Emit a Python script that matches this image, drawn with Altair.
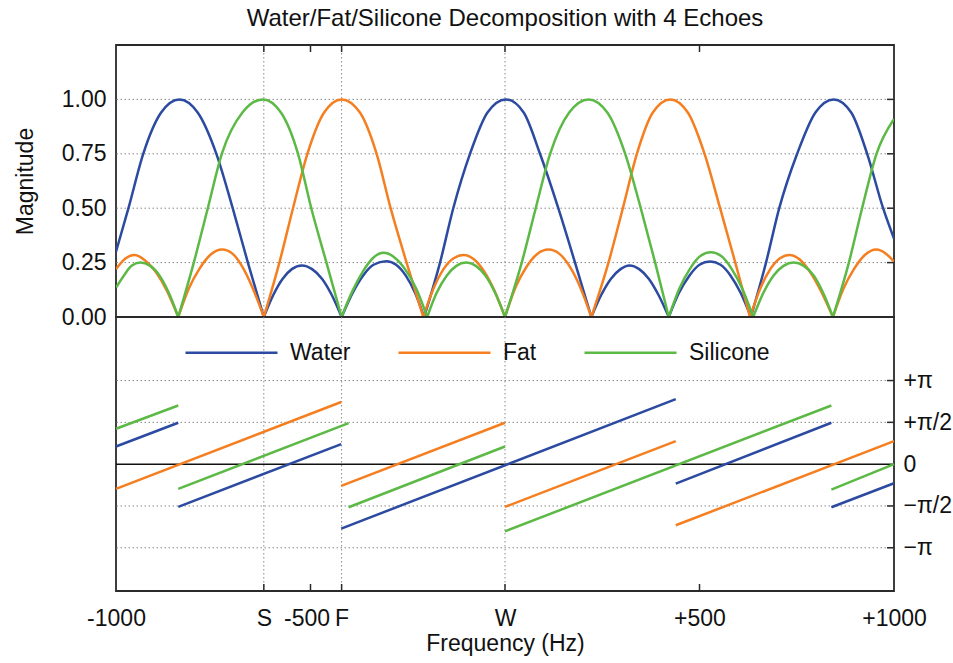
import altair as alt
import pandas as pd

# ---- reference frequencies (Hz) ----
S_HZ, F_HZ, W_HZ = -620, -420, 0

series_names = ["Water", "Fat", "Silicone"]
series_colors = ["#2b4aa0", "#f57f20", "#5cb946"]

# ---- magnitude curves (Hz, magnitude) ----
water_hz = [-1000, -968, -930, -884, -837, -790, -742, -700, -661, -620,
            -596, -572, -548, -522, -496, -470, -445, -420,
            -392, -365, -338, -305, -280, -255, -231, -208,
            -167, -133, -90, -45, 2, 48, 90, 137, 180, 222,
            247, 272, 297, 320, 345, 370, 395, 421,
            447, 474, 500, 527, 554, 580, 606, 632,
            671, 705, 751, 798, 845, 890, 931, 972, 1000]
water_mag = [0.30, 0.50, 0.75, 0.94, 1.0, 0.94, 0.75, 0.50, 0.25, 0,
             0.10, 0.175, 0.22, 0.237, 0.22, 0.175, 0.10, 0,
             0.11, 0.19, 0.24, 0.256, 0.24, 0.19, 0.11, 0,
             0.25, 0.50, 0.75, 0.94, 1.0, 0.94, 0.75, 0.50, 0.25, 0,
             0.10, 0.175, 0.22, 0.237, 0.22, 0.175, 0.10, 0,
             0.11, 0.19, 0.24, 0.255, 0.24, 0.19, 0.11, 0,
             0.25, 0.50, 0.75, 0.94, 1.0, 0.94, 0.75, 0.50, 0.36]

fat_hz = [-1000, -975, -953, -925, -897, -869, -840,
          -813, -786, -758, -727, -700, -675, -648, -620,
          -580, -545, -508, -465, -420, -373, -330, -294, -253, -210,
          -184, -158, -132, -106, -80, -54, -27, 0,
          28, 55, 83, 112, 140, 167, 195, 222,
          266, 303, 339, 380, 425, 470, 513, 553, 592, 630,
          656, 682, 707, 731, 757, 783, 812, 843,
          870, 897, 925, 955, 980, 1000]
fat_mag = [0.22, 0.27, 0.285, 0.26, 0.205, 0.12, 0,
           0.13, 0.22, 0.285, 0.31, 0.29, 0.23, 0.13, 0,
           0.25, 0.50, 0.75, 0.94, 1.0, 0.94, 0.75, 0.50, 0.25, 0,
           0.13, 0.22, 0.27, 0.285, 0.265, 0.21, 0.12, 0,
           0.14, 0.23, 0.29, 0.31, 0.29, 0.23, 0.13, 0,
           0.25, 0.50, 0.75, 0.94, 1.0, 0.94, 0.75, 0.50, 0.25, 0,
           0.13, 0.22, 0.27, 0.285, 0.265, 0.21, 0.12, 0,
           0.13, 0.22, 0.285, 0.31, 0.29, 0.255]

silicone_hz = [-1000, -980, -960, -938, -912, -888, -864, -840,
               -800, -764, -728, -675, -622, -576, -532, -498, -459, -420,
               -392, -365, -340, -312, -285, -257, -228, -200,
               -176, -150, -125, -100, -75, -50, -25, 0,
               43, 79, 116, 165, 215, 263, 309, 349, 386, 421,
               448, 475, 502, 529, 556, 583, 610, 638,
               664, 690, 716, 742, 768, 794, 818, 843,
               884, 918, 955, 1000]
silicone_mag = [0.135, 0.19, 0.235, 0.25, 0.235, 0.19, 0.11, 0,
                0.25, 0.50, 0.75, 0.94, 1.0, 0.94, 0.75, 0.50, 0.25, 0,
                0.12, 0.21, 0.27, 0.295, 0.275, 0.22, 0.13, 0,
                0.11, 0.19, 0.235, 0.25, 0.235, 0.19, 0.11, 0,
                0.25, 0.50, 0.75, 0.94, 1.0, 0.94, 0.75, 0.50, 0.25, 0,
                0.13, 0.22, 0.28, 0.297, 0.28, 0.22, 0.13, 0,
                0.11, 0.19, 0.235, 0.25, 0.235, 0.19, 0.11, 0,
                0.25, 0.50, 0.75, 0.91]

# ---- phase segments (Hz, phase in units of pi) ----
seg_series = ["Water"] * 5 + ["Fat"] * 4 + ["Silicone"] * 5
seg_hz0 = [-1000, -840, -421, 439, 839,
           -1000, -421, 0, 439,
           -1000, -840, -402, 0, 839]
seg_ph0 = [0.211, -0.511, -0.771, -0.232, -0.515,
           -0.296, -0.260, -0.511, -0.731,
           0.423, -0.296, -0.515, -0.803, -0.304]
seg_hz1 = [-840, -421, 439, 839, 1000,
           -421, 0, 439, 1000,
           -840, -402, 0, 839, 1000]
seg_ph1 = [0.495, 0.240, 0.778, 0.495, -0.228,
           0.743, 0.495, 0.275, 0.275,
           0.702, 0.491, 0.211, 0.702, 0.0]

# ---- axis / grid values ----
x_tick_values = [-1000, S_HZ, -500, F_HZ, W_HZ, 500, 1000]
x_tick_labels = ["-1000", "S", "-500", "F", "W", "+500", "+1000"]
frame_tick_hz = [S_HZ, -500, F_HZ, W_HZ, 500]
vgrid_hz = [S_HZ, F_HZ, W_HZ]
mag_ticks = [0, 0.25, 0.5, 0.75, 1.0]
mag_grid = [0.25, 0.5, 0.75, 1.0]
phase_ticks = [-1, -0.5, 0, 0.5, 1]
phase_labels = ["\u2212\u03c0", "\u2212\u03c0/2", "0", "+\u03c0/2", "+\u03c0"]
phase_grid = [-1, -0.5, 0.5, 1]

FONT = "Liberation Sans"
FS = 23
FS_TITLE = 24
W, H_TOP, H_BOT = 778, 272, 274
XDOM = [-1000, 1000]
MAG_DOM = [0, 1.25]
PH_DOM = [-1.517, 1.76]

# ---- build tables ----
rows = []
for name, hz, mag in [("Water", water_hz, water_mag), ("Fat", fat_hz, fat_mag),
                      ("Silicone", silicone_hz, silicone_mag)]:
    lobe = 0
    for i, (h, m) in enumerate(zip(hz, mag)):
        rows.append({"series": name, "lobe": f"{name}{lobe}", "hz": h, "mag": m, "order": i})
        if m == 0 and 0 < i < len(hz) - 1:
            lobe += 1
            rows.append({"series": name, "lobe": f"{name}{lobe}", "hz": h, "mag": m, "order": i})
mag_df = pd.DataFrame(rows)

seg_df = pd.DataFrame({"series": seg_series, "hz0": seg_hz0, "ph0": seg_ph0,
                       "hz1": seg_hz1, "ph1": seg_ph1})

xs = alt.Scale(domain=XDOM, nice=False, zero=False)
ys_mag = alt.Scale(domain=MAG_DOM, nice=False, zero=False)
ys_ph = alt.Scale(domain=PH_DOM, nice=False, zero=False)
color_scale = alt.Scale(domain=series_names, range=series_colors)

def expr_map(values, labels):
    parts = []
    for v, l in zip(values, labels):
        parts.append(f"abs(datum.value - ({v})) < 1e-6 ? '{l}' : ")
    return "".join(parts) + "''"

GRID_COLOR = "#8a8a8a"
DASH = [1.5, 2.5]
TICK_LEN = 7
TXT = "#111111"
FRAME = "#2a2a2a"

# ================= top panel (magnitude) =================
vgrid_df = pd.DataFrame({"hz": vgrid_hz})
top_vgrid = alt.Chart(vgrid_df).mark_rule(color=GRID_COLOR, strokeDash=DASH, strokeWidth=1).encode(
    x=alt.X("hz:Q", scale=xs, axis=None))
top_hgrid = alt.Chart(pd.DataFrame({"m": mag_grid})).mark_rule(
    color=GRID_COLOR, strokeDash=DASH, strokeWidth=1).encode(
    y=alt.Y("m:Q", scale=ys_mag, axis=alt.Axis(
        values=mag_ticks, format=".2f", title="Magnitude", grid=False, ticks=False,
        domain=False, labelFontSize=FS, titleFontSize=FS, titleFontWeight="normal",
        labelPadding=10, titlePadding=24, labelFont=FONT, titleFont=FONT, labelColor=TXT,
        titleColor=TXT)))
top_ticks_top = alt.Chart(pd.DataFrame({"hz": frame_tick_hz})).mark_rule(
    color=FRAME, strokeWidth=1.5).encode(
    x=alt.X("hz:Q", scale=xs, axis=None), y=alt.value(0), y2=alt.value(TICK_LEN))
top_ticks_right = alt.Chart(pd.DataFrame({"m": mag_grid})).mark_rule(
    color=FRAME, strokeWidth=1.5).encode(
    y=alt.Y("m:Q", scale=ys_mag), x=alt.value(W - TICK_LEN), x2=alt.value(W))
top_lines = alt.Chart(mag_df).mark_line(strokeWidth=2.5, interpolate="monotone", clip=True).encode(
    x=alt.X("hz:Q", scale=xs, axis=None),
    y=alt.Y("mag:Q", scale=ys_mag),
    color=alt.Color("series:N", scale=color_scale, legend=None),
    detail="lobe:N",
    order="order:Q")

top = alt.layer(top_vgrid, top_hgrid, top_ticks_top, top_ticks_right, top_lines).properties(
    width=W, height=H_TOP,
    title=alt.TitleParams("Water/Fat/Silicone Decomposition with 4 Echoes", fontSize=FS_TITLE,
                          fontWeight="normal", font=FONT, color=TXT, anchor="middle",
                          frame="group", offset=13))

# ================= bottom panel (phase) =================
bot_vgrid = alt.Chart(vgrid_df).mark_rule(color=GRID_COLOR, strokeDash=DASH, strokeWidth=1).encode(
    x=alt.X("hz:Q", scale=xs, axis=alt.Axis(
        values=x_tick_values, labelExpr=expr_map(x_tick_values, x_tick_labels),
        title="Frequency (Hz)", grid=False, ticks=False, domain=False,
        labelOverlap=False, labelFlush=False, labelBound=False,
        labelOffset={"condition": {"test": "datum.value == -500", "value": -4}, "value": 0},
        labelFontSize=FS, titleFontSize=FS, titleFontWeight="normal",
        labelPadding=16, titlePadding=2, labelFont=FONT, titleFont=FONT,
        labelColor=TXT, titleColor=TXT)))
bot_hgrid = alt.Chart(pd.DataFrame({"p": phase_grid})).mark_rule(
    color=GRID_COLOR, strokeDash=DASH, strokeWidth=1).encode(
    y=alt.Y("p:Q", scale=ys_ph, axis=alt.Axis(
        orient="right", values=phase_ticks, labelExpr=expr_map(phase_ticks, phase_labels),
        title=None, grid=False, ticks=False, domain=False, labelOverlap=False,
        labelFlush=False, labelBound=False, labelFontSize=FS, labelPadding=9,
        labelFont=FONT, labelColor=TXT)))
bot_zero = alt.Chart(pd.DataFrame({"p": [0]})).mark_rule(color="#111", strokeWidth=1.5).encode(
    y=alt.Y("p:Q", scale=ys_ph))
bot_ticks_bottom = alt.Chart(pd.DataFrame({"hz": frame_tick_hz})).mark_rule(
    color=FRAME, strokeWidth=1.5).encode(
    x=alt.X("hz:Q", scale=xs), y=alt.value(H_BOT - TICK_LEN), y2=alt.value(H_BOT))
bot_ticks_right = alt.Chart(pd.DataFrame({"p": phase_grid})).mark_rule(
    color=FRAME, strokeWidth=1.5).encode(
    y=alt.Y("p:Q", scale=ys_ph), x=alt.value(W - TICK_LEN), x2=alt.value(W))
bot_segs = alt.Chart(seg_df).mark_rule(strokeWidth=2.5).encode(
    x=alt.X("hz0:Q", scale=xs), x2="hz1:Q",
    y=alt.Y("ph0:Q", scale=ys_ph), y2="ph1:Q",
    color=alt.Color("series:N", scale=color_scale, sort=series_names,
                    legend=alt.Legend(
                        title=None, orient="none", direction="horizontal",
                        legendX=68, legendY=-12, symbolType="stroke", symbolSize=8464,
                        symbolStrokeWidth=2.5, labelFontSize=FS, labelFont=FONT,
                        labelColor=TXT, labelOffset=11, columnPadding=42)))

bottom = alt.layer(bot_vgrid, bot_hgrid, bot_zero, bot_ticks_bottom, bot_ticks_right,
                   bot_segs).properties(width=W, height=H_BOT)

chart = alt.vconcat(top, bottom, spacing=0, bounds="flush").resolve_scale(
    color="shared").resolve_legend(color="independent").configure(
    padding={"left": 13, "top": 6, "right": 0, "bottom": 0}, background="white").configure_view(
    stroke=FRAME, strokeWidth=1.8)

chart.save("out.html", embed_options={"renderer": "svg", "actions": False})
